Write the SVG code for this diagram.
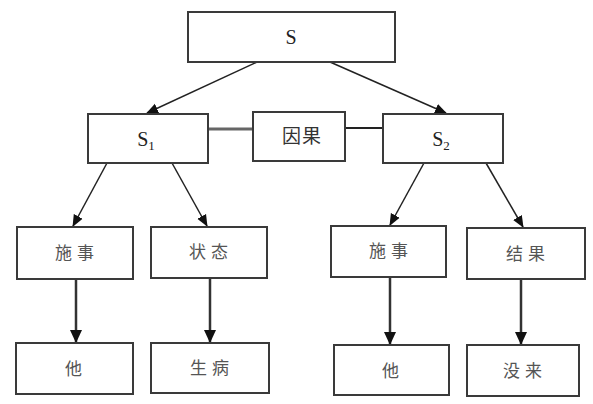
<svg xmlns="http://www.w3.org/2000/svg" width="593" height="404" viewBox="0 0 593 404">
<style>
.box{fill:#fff;stroke:#3a3a3a;stroke-width:2}
.lat{font-family:"Liberation Serif",serif;font-size:20px;fill:#222;text-anchor:middle}
.cjk{font-family:"Noto Sans CJK SC",sans-serif;font-size:17px;fill:#555;text-anchor:middle;letter-spacing:5px}
.c{stroke:#222;stroke-width:1.5;fill:none}
.v{stroke:#333;stroke-width:2.5;fill:none}
</style>
<defs>
<marker id="ah" markerWidth="12" markerHeight="12" refX="11" refY="6" orient="auto" markerUnits="userSpaceOnUse">
<path d="M0,1 L12,6 L0,11 z" fill="#111"/>
</marker>
<marker id="av" markerWidth="14" markerHeight="14" refX="12" refY="7" orient="auto" markerUnits="userSpaceOnUse">
<path d="M0,1 L13,7 L0,13 z" fill="#111"/>
</marker>
</defs>
<g id="connectors">
<line class="c" x1="257" y1="62" x2="147" y2="113" marker-end="url(#ah)"/>
<line class="c" x1="330" y1="62" x2="446" y2="113" marker-end="url(#ah)"/>
<line x1="208" y1="129" x2="253" y2="129" stroke="#666" stroke-width="3"/>
<line x1="345" y1="128" x2="383" y2="128" stroke="#222" stroke-width="2"/>
<line class="c" x1="107" y1="163" x2="73" y2="226" marker-end="url(#ah)"/>
<line class="c" x1="172" y1="163" x2="207" y2="226" marker-end="url(#ah)"/>
<line class="c" x1="424" y1="163" x2="390" y2="225" marker-end="url(#ah)"/>
<line class="c" x1="486" y1="163" x2="523" y2="227" marker-end="url(#ah)"/>
<line class="v" x1="76" y1="279" x2="76" y2="342" marker-end="url(#av)"/>
<line class="v" x1="210" y1="278" x2="210" y2="342" marker-end="url(#av)" stroke="#555" stroke-width="2"/>
<line class="v" x1="390" y1="277" x2="390" y2="344" marker-end="url(#av)"/>
<line class="v" x1="521" y1="279" x2="521" y2="344" marker-end="url(#av)"/>
</g>
<g id="S"><rect class="box" x="188" y="12" width="207" height="50"/><text class="lat" x="291" y="44">S</text></g>
<g id="S1"><rect class="box" x="88" y="114" width="120" height="49"/><text class="lat" x="146" y="146">S<tspan font-size="13" dy="4">1</tspan></text></g>
<g id="yinguo"><rect class="box" x="253" y="112" width="92" height="49"/><text class="cjk" x="302" y="143" style="font-size:19px;letter-spacing:1px;fill:#333">因果</text></g>
<g id="S2"><rect class="box" x="383" y="114" width="120" height="49"/><text class="lat" x="441" y="146">S<tspan font-size="13" dy="4">2</tspan></text></g>
<g id="shishi1"><rect class="box" x="17" y="227" width="116" height="52"/><text class="cjk" x="77" y="259">施事</text></g>
<g id="zhuangtai"><rect class="box" x="151" y="227" width="116" height="51"/><text class="cjk" x="211" y="258">状态</text></g>
<g id="shishi2"><rect class="box" x="331" y="226" width="115" height="51"/><text class="cjk" x="391" y="257">施事</text></g>
<g id="jieguo"><rect class="box" x="467" y="228" width="118" height="51"/><text class="cjk" x="528" y="260">结果</text></g>
<g id="ta1"><rect class="box" x="16" y="343" width="117" height="51"/><text class="cjk" x="76" y="375">他</text></g>
<g id="shengbing"><rect class="box" x="151" y="343" width="118" height="50"/><text class="cjk" x="212" y="374">生病</text></g>
<g id="ta2"><rect class="box" x="334" y="345" width="115" height="50"/><text class="cjk" x="393" y="377">他</text></g>
<g id="meilai"><rect class="box" x="467" y="345" width="112" height="51"/><text class="cjk" x="525" y="377">没来</text></g>
</svg>
